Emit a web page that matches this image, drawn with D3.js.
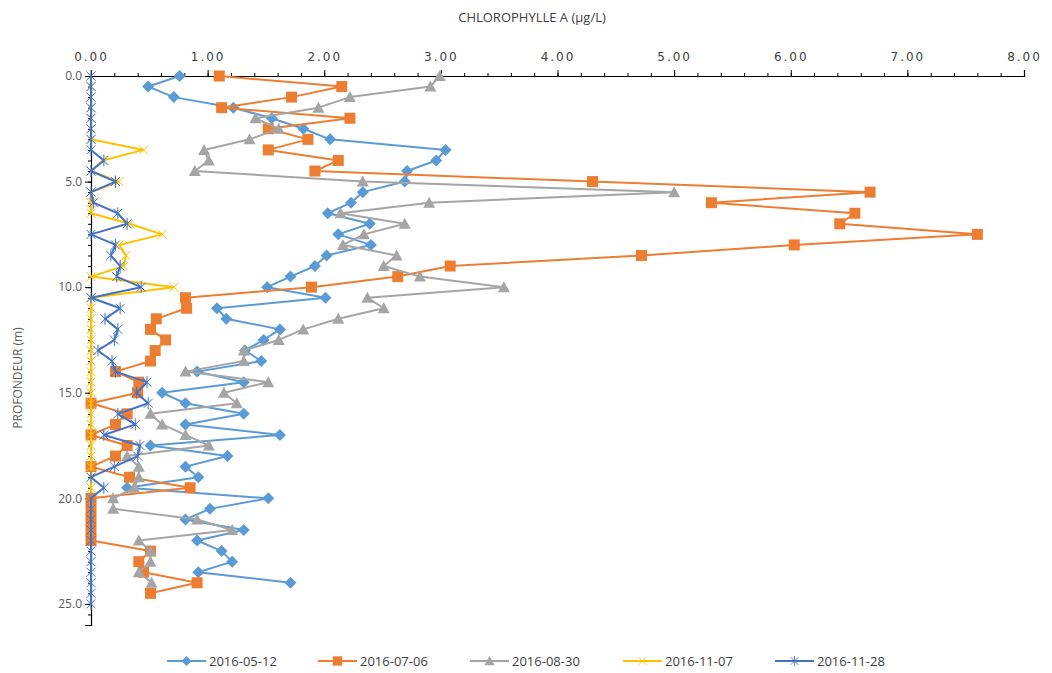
<!DOCTYPE html>
<html>
<head>
<meta charset="utf-8">
<script src="https://cdn.jsdelivr.net/npm/d3@7"></script>
<style>
  body { margin: 0; background: #fff; }
  svg { display: block; }
</style>
</head>
<body>
<div id="chart"></div>
<script>
// depth (m) of each sample, chlorophyll a (ug/L) per campaign
const depths = [0, 0.5, 1, 1.5, 2, 2.5, 3, 3.5, 4, 4.5, 5, 5.5, 6, 6.5, 7, 7.5, 8, 8.5, 9, 9.5,
  10, 10.5, 11, 11.5, 12, 12.5, 13, 13.5, 14, 14.5, 15, 15.5, 16, 16.5, 17, 17.5, 18, 18.5, 19, 19.5,
  20, 20.5, 21, 21.5, 22, 22.5, 23, 23.5, 24, 24.5, 25];

const may12 = [0.76, 0.49, 0.71, 1.22, 1.55, 1.82, 2.05, 3.04, 2.96, 2.71, 2.69, 2.33, 2.23, 2.03, 2.39, 2.12, 2.40, 2.02, 1.92, 1.71,
  1.51, 2.01, 1.08, 1.16, 1.62, 1.48, 1.32, 1.46, 0.91, 1.31, 0.61, 0.81, 1.31, 0.81, 1.62, 0.51, 1.17, 0.81, 0.92, 0.31,
  1.52, 1.02, 0.81, 1.31, 0.91, 1.12, 1.21, 0.92, 1.71];

const jul06 = [1.10, 2.15, 1.72, 1.12, 2.22, 1.52, 1.86, 1.52, 2.12, 1.92, 4.30, 6.68, 5.32, 6.55, 6.42, 7.60, 6.03, 4.72, 3.08, 2.63,
  1.89, 0.81, 0.82, 0.56, 0.51, 0.64, 0.55, 0.51, 0.21, 0.41, 0.40, 0, 0.31, 0.21, 0, 0.31, 0.21, 0, 0.33, 0.85,
  0, 0, 0, 0, 0, 0.51, 0.41, 0.45, 0.91, 0.51];

const aug30 = [2.99, 2.91, 2.22, 1.95, 1.41, 1.61, 1.36, 0.97, 1.01, 0.89, 2.33, 5.00, 2.90, 2.14, 2.69, 2.34, 2.16, 2.62, 2.51, 2.82,
  3.54, 2.37, 2.51, 2.12, 1.82, 1.61, 1.31, 1.31, 0.81, 1.52, 1.14, 1.25, 0.51, 0.61, 0.81, 1.01, 0.31, 0.41, 0.41, 0.37,
  0.19, 0.19, 0.91, 1.21, 0.41, 0.51, 0.51, 0.41, 0.52];

const nov07 = [0, 0, 0, 0, 0, 0, 0, 0.45, 0.10, 0, 0.24, 0, 0, 0, 0.33, 0.61, 0.24, 0.30, 0.28, 0,
  0.71, 0, 0, 0, 0, 0, 0, 0, 0, 0, 0, 0, 0, 0, 0, 0, 0, 0, 0, 0,
  0, 0];

const nov28 = [0, 0, 0, 0, 0, 0, 0, 0, 0.11, 0, 0.21, 0, 0.02, 0.23, 0.31, 0, 0.21, 0.17, 0.25, 0.22,
  0.43, 0, 0.25, 0.12, 0.23, 0.20, 0.06, 0.18, 0.21, 0.48, 0.39, 0.49, 0.23, 0.38, 0.11, 0.42, 0.40, 0.20, 0, 0.11,
  0, 0, 0, 0, 0, 0, 0, 0, 0, 0, 0];

const seriesNames = ['2016-05-12', '2016-07-06', '2016-08-30', '2016-11-07', '2016-11-28'];
const seriesColors = ['#5B9BD5', '#ED7D31', '#A5A5A5', '#FFC000', '#4472C4'];
const seriesMarkers = ['diamond', 'square', 'triangle', 'x', 'asterisk'];
const seriesValues = [may12, jul06, aug30, nov07, nov28];

const xMajor = [0, 1, 2, 3, 4, 5, 6, 7, 8];
const yMajor = [0, 5, 10, 15, 20, 25];

const width = 1052, height = 673;

const svg = d3.select('#chart').append('svg')
  .attr('width', width)
  .attr('height', height);

const x = d3.scaleLinear().domain([0, 8]).range([91, 1024]);
const y = d3.scaleLinear().domain([0, 26]).range([76, 625]);

// title
svg.append('text')
  .attr('x', 532).attr('y', 22)
  .attr('text-anchor', 'middle')
  .attr('font-family', 'Open Sans')
  .attr('font-size', 13)
  .attr('fill', '#404040')
  .text('CHLOROPHYLLE A (µg/L)');

// y title
svg.append('text')
  .attr('transform', 'translate(22,378) rotate(-90)')
  .attr('text-anchor', 'middle')
  .attr('font-family', 'Open Sans')
  .attr('font-size', 12)
  .attr('fill', '#595959')
  .text('PROFONDEUR (m)');

// minor ticks
svg.append('g')
  .attr('transform', `translate(0,${y(0)})`)
  .call(d3.axisTop(x).tickValues(d3.range(0, 8.01, 0.2)).tickSize(3).tickFormat(''))
  .call(g => g.select('.domain').remove())
  .selectAll('line').attr('stroke', '#000');

svg.append('g')
  .attr('transform', `translate(${x(0)},0)`)
  .call(d3.axisLeft(y).tickValues(d3.range(0, 26.01, 0.5)).tickSize(3).tickFormat(''))
  .call(g => g.select('.domain').remove())
  .selectAll('line').attr('stroke', '#000');

// major axes
const xAxis = svg.append('g')
  .attr('transform', `translate(0,${y(0)})`)
  .call(d3.axisTop(x).tickValues(xMajor).tickSize(6).tickPadding(9).tickFormat(d3.format('.2f')));
xAxis.select('.domain').attr('stroke', '#000').attr('stroke-width', 1.2);
xAxis.selectAll('line').attr('stroke', '#000');
xAxis.selectAll('text')
  .attr('font-family', 'DejaVu Sans')
  .attr('font-size', 12)
  .attr('letter-spacing', '2px')
  .attr('fill', '#404040');

const yAxis = svg.append('g')
  .attr('transform', `translate(${x(0)},0)`)
  .call(d3.axisLeft(y).tickValues(yMajor).tickSize(6).tickPadding(3).tickFormat(d3.format('.1f')));
yAxis.select('.domain').attr('stroke', '#000').attr('stroke-width', 1.2);
yAxis.selectAll('line').attr('stroke', '#000');
yAxis.selectAll('text')
  .attr('font-family', 'Open Sans')
  .attr('font-size', 12)
  .attr('fill', '#595959');

function markerPath(kind) {
  if (kind === 'diamond') return 'M0,-6L6,0L0,6L-6,0Z';
  if (kind === 'square') return 'M-5.5,-5.5H5.5V5.5H-5.5Z';
  if (kind === 'triangle') return 'M0,-6L6,5L-6,5Z';
  if (kind === 'x') return 'M-4.5,-4.5L4.5,4.5M-4.5,4.5L4.5,-4.5';
  return 'M-4.5,-4.5L4.5,4.5M-4.5,4.5L4.5,-4.5M0,-6V6';
}

function drawMarker(sel, kind, color) {
  const stroked = kind === 'x' || kind === 'asterisk';
  sel.append('path')
    .attr('d', markerPath(kind))
    .attr('fill', stroked ? 'none' : color)
    .attr('stroke', stroked ? color : 'none')
    .attr('stroke-width', 1);
}

const line = d3.line()
  .x(d => x(d.v))
  .y(d => y(d.d));

seriesValues.forEach((vals, i) => {
  const pts = vals.map((v, k) => ({ d: depths[k], v: v }));
  const g = svg.append('g');
  g.append('path')
    .datum(pts)
    .attr('d', line)
    .attr('fill', 'none')
    .attr('stroke', seriesColors[i])
    .attr('stroke-width', 2)
    .attr('stroke-linejoin', 'round');
  g.selectAll('g.pt')
    .data(pts)
    .enter().append('g')
      .attr('class', 'pt')
      .attr('transform', p => `translate(${x(p.v)},${y(p.d)})`)
      .each(function() { drawMarker(d3.select(this), seriesMarkers[i], seriesColors[i]); });
});

// legend
const legendX = [167, 318, 470, 623, 775];
seriesNames.forEach((name, i) => {
  const lg = svg.append('g').attr('transform', `translate(${legendX[i]},661)`);
  lg.append('line')
    .attr('x1', 0).attr('x2', 39)
    .attr('stroke', seriesColors[i]).attr('stroke-width', 2);
  const m = lg.append('g').attr('transform', 'translate(19.5,0) scale(0.85)');
  drawMarker(m, seriesMarkers[i], seriesColors[i]);
  lg.append('text')
    .attr('x', 42).attr('y', 5)
    .attr('font-family', 'Open Sans')
    .attr('font-size', 13)
    .attr('fill', '#404040')
    .text(name);
});
</script>
</body>
</html>
